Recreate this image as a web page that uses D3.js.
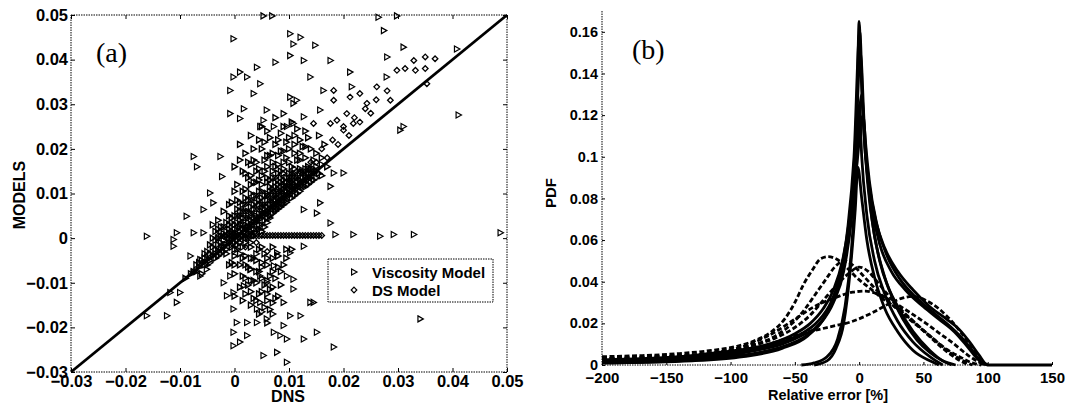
<!DOCTYPE html>
<html>
<head>
<meta charset="utf-8">
<script src="https://cdn.jsdelivr.net/npm/d3@7/dist/d3.min.js"></script>
<style>
  html, body { margin: 0; padding: 0; background: #fff; }
  svg { display: block; }
</style>
</head>
<body>
<svg id="fig" width="1068" height="407"></svg>
<script>
// ---------- Panel (a): model vs DNS scatter ----------
const scatterTicks = [-0.03, -0.02, -0.01, 0, 0.01, 0.02, 0.03, 0.04, 0.05];
const scatterTickLabels = ["\u22120.03", "\u22120.02", "\u22120.01", "0", "0.01", "0.02", "0.03", "0.04", "0.05"];
const legendLabels = ["Viscosity Model", "DS Model"];

// Viscosity model points [DNS, model]
const viscosityPts = [
  [-0.0002,0.0447],[0.0053,0.0498],[0.0069,0.0498],[0.0264,0.0495],[0.0298,0.0498],[0.0274,0.0465],
  [0.0102,0.0458],[0.0108,0.0435],[0.0121,0.045],[0.0102,0.0409],[0.0127,0.0398],[0.0148,0.0432],
  [0.0176,0.0398],[0.0075,0.0394],[0.028,0.0406],[0.031,0.0428],[0.0408,0.0424],[0.0411,0.0276],
  [0.031,0.025],[0.0279,0.0361],[0.0212,0.0372],[0.0215,0.0339],[0.0163,0.0331],[0.0139,0.0361],
  [0.0102,0.0316],[0.0114,0.0309],[0.0108,0.0302],[0.009,0.0279],[0.0059,0.0287],[0.0035,0.0324],
  [0.0047,0.0346],[0.0023,0.0361],[0.0041,0.0383],[-0.0002,0.0361],[0.001,0.0372],[-0.0008,0.0331],
  [-0.0008,0.0279],[0.0017,0.029],[0.001,0.0268],[0.0053,0.0264],[0.0047,0.025],[0.0072,0.025],
  [0.0096,0.025],[0.0108,0.0257],[0.0127,0.0272],[0.0157,0.0287],[-0.0075,0.0183],[-0.0069,0.016],
  [-0.0026,0.0183],[-0.0023,0.0138],[-0.0045,0.0101],[-0.0057,0.0064],[-0.0039,0.0079],[-0.0088,0.0049],
  [-0.0057,0.0012],[-0.0075,0.0012],[-0.0106,0.0012],[-0.0112,-0.0003],[-0.0161,0.0004],[0.0267,0.0004],
  [0.0292,0.0008],[0.0329,0.0008],[0.0218,0.0008],[0.0185,0.0008],[0.0488,0.0012],[0.0304,0.0242],
  [0.0182,0.0146],[0.02,0.0146],[0.0176,0.0116],[0.0157,0.0079],[0.0127,0.0064],[0.0151,0.0056],
  [0.0176,0.0034],[0.0127,-0.0018],[0.0102,-0.0033],[0.0078,-0.0033],[0.0096,-0.0085],[0.0108,-0.0092],
  [0.0108,-0.0114],[0.009,-0.0144],[0.0139,-0.0144],[0.0102,-0.0174],[0.0121,-0.0174],[0.009,-0.0196],
  [0.0072,-0.0211],[0.0084,-0.0218],[0.0096,-0.0226],[0.0127,-0.0226],[0.0151,-0.0211],[0.0182,-0.0244],
  [0.0078,-0.0256],[0.0096,-0.0278],[0.0053,-0.0263],[0.0023,-0.0218],[0.001,-0.0233],[-0.0002,-0.0241],
  [-0.0002,-0.0211],[0.0004,-0.0189],[0.0023,-0.0189],[0.0041,-0.0189],[0.0059,-0.0181],[-0.0002,-0.0159],
  [0.0041,-0.0159],[0.0047,-0.0144],[-0.0014,-0.0129],[-0.0002,-0.0122],[0.0017,-0.0107],[-0.002,-0.01],
  [-0.0008,-0.0085],[0.0029,-0.007],[0.0059,-0.01],[0.0072,-0.0062],[0.0047,-0.0085],[0.0341,-0.0181],
  [0.0145,-0.0144],[-0.0161,-0.0174],[-0.0124,-0.0174],[-0.0106,-0.0144],[-0.0118,-0.0122],[-0.01,-0.0122],
  [-0.0075,-0.0077],[-0.0063,-0.0085],[-0.0051,-0.007],[-0.0081,-0.004],[-0.0063,-0.0048],[-0.0045,-0.0055],
  [-0.0112,-0.0018]
];

// Viscosity model points in the dense cloud around the origin
const viscosityCore = [
  [-0.005,-0.006],[-0.004,-0.004],[-0.0035,-0.0025],[-0.003,-0.004],[-0.0025,-0.001],[-0.002,-0.003],
  [-0.002,0.001],[-0.0015,-0.0015],[-0.001,0.0],[-0.001,0.002],[-0.0005,-0.002],[0,0.001],[0,0.003],
  [0,-0.001],[0.0005,0.002],[0.0005,0.005],[0.001,0],[0.001,0.004],[0.0015,0.002],[0.0015,-0.002],
  [0.002,0.003],[0.002,0.006],[0.0025,0.001],[0.003,0.004],[0.003,0.007],[0.0035,0.002],[0.004,0.005],
  [0.004,0.008],[0.0045,0.003],[0.005,0.006],[0.005,0.009],[0.0055,0.004],[0.006,0.007],[0.006,0.01],
  [0.0065,0.005],[0.007,0.008],[0.007,0.011],[0.0075,0.006],[0.008,0.009],[0.008,0.012],[0.0085,0.007],
  [0.009,0.01],[0.009,0.013],[0.0095,0.008],[0.01,0.011],[0.01,0.0135],[0.0105,0.009],[0.011,0.012],
  [0.0115,0.01],[0.012,0.013],[0.0125,0.0115],[0.013,0.014],[0.0135,0.012],[0.014,0.0145],[0.0145,0.013],
  [0.015,0.015],[0.016,0.014],[0.017,0.016],
  [-0.0015,0.0005],[-0.0005,0.001],[0.0005,-0.0005],[0.001,0.0015],[0.002,0.0],[0.0025,0.0025],
  [0.003,0.001],[0.0035,0.0045],[0.004,0.002],[0.0045,0.0055],[0.005,0.003],[0.0055,0.0075],
  [0.006,0.0045],[0.0065,0.0085],[0.007,0.0065],[0.0075,0.0095],[0.008,0.0075],[0.0085,0.0105],
  [0.009,0.0085],[0.0095,0.0115],[0.0105,0.0125],[0.011,0.0105],[0.012,0.0115],[0.013,0.0125],
  [-0.0045,-0.005],[-0.0035,-0.0045],[-0.0025,-0.0035],[-0.0015,-0.0025],[-0.0005,-0.0005],[0.0005,0.0005],
  [0.0005,0.0035],[0.001,0.006],[0.0015,0.0045],[0.0015,0.0075],[0.002,0.0015],[0.0025,0.0045],
  [0.0025,0.0085],[0.003,0.0025],[0.003,0.0055],[0.0035,0.0065],[0.0035,0.0095],[0.004,0.0035],
  [0.004,0.0065],[0.0045,0.0075],[0.0045,0.0105],[0.005,0.0045],[0.005,0.0075],[0.0055,0.0055],
  [0.0055,0.0095],[0.006,0.0085],[0.006,0.0125],[0.0065,0.0065],[0.0065,0.0105],[0.007,0.0095],
  [0.007,0.0135],[0.0075,0.0075],[0.0075,0.0115],[0.008,0.0105],[0.008,0.0145],[0.0085,0.0085],
  [0.0085,0.0125],[0.009,0.0115],[0.009,0.0155],[0.0095,0.0095],[0.0095,0.0135],[0.01,0.0125],
  [0.0105,0.0105],[0.0105,0.0145],[0.011,0.0135],[0.0115,0.0125],[0.012,0.0145],[0.0125,0.0135],
  [0.013,0.0155],[0.0135,0.0145],[0.014,0.0135],[0.0145,0.0155],[0.0155,0.0145],[0.016,0.0165],
  [-0.003,-0.003],[-0.003,-0.0015],[-0.003,0.0],[-0.0025,-0.0025],[-0.0025,0.0005],[-0.002,-0.002],
  [-0.002,-0.0005],[-0.002,0.0025],[-0.0015,-0.0035],[-0.0015,0.0015],[-0.001,-0.001],[-0.001,0.001],
  [-0.001,0.003],[-0.0005,-0.0015],[-0.0005,0.0015],[-0.0005,0.0045],[0,0.0],[0,0.002],[0,0.005],
  [0,-0.0025],[0.0005,-0.0015],[0.0005,0.001],[0.0005,0.0065],[0.001,-0.001],[0.001,0.0025],
  [0.001,0.005],[0.0015,0.0005],[0.0015,0.003],[0.0015,0.006],[0.002,-0.001],[0.002,0.002],
  [0.002,0.0045],[0.002,0.0075],[0.0025,0.0],[0.0025,0.0035],[0.0025,0.006],[0.003,-0.001],
  [0.003,0.0015],[0.003,0.0085],[0.0035,0.0005],[0.0035,0.0035],[0.0035,0.0075],[0.004,0.001],
  [0.004,0.0045],[0.004,0.0095],[0.0045,0.002],[0.0045,0.0045],[0.0045,0.0085],[0.005,0.0015],
  [0.005,0.0055],[0.005,0.0105],[0.0055,0.0025],[0.0055,0.0065],[0.006,0.0035],[0.006,0.0055],
  [0.006,0.0095],[0.0065,0.0045],[0.0065,0.0075],[0.0065,0.0115],[0.007,0.0055],[0.007,0.0075],
  [0.007,0.0105],[0.0075,0.0065],[0.0075,0.0085],[0.0075,0.0125],[0.008,0.0065],[0.008,0.0085],
  [0.008,0.011],[0.0085,0.0075],[0.0085,0.0095],[0.0085,0.0135],[0.009,0.0075],[0.009,0.0095],
  [0.009,0.012],[0.0095,0.0085],[0.0095,0.0105],[0.0095,0.0125],[0.01,0.0095],[0.01,0.0115],
  [0.01,0.0145],[0.0105,0.0115],[0.0105,0.0135],[0.011,0.0095],[0.011,0.0115],[0.011,0.0145],
  [0.0115,0.0115],[0.0115,0.0135],[0.012,0.0105],[0.012,0.0125],[0.012,0.0155],[0.0125,0.0125],
  [0.0125,0.0145],[0.013,0.0115],[0.013,0.0135],[0.0135,0.0135],[0.0135,0.0155],[0.014,0.0125],
  [0.014,0.0155],[0.0145,0.0145],[0.015,0.0135],[0.015,0.016],
  // spread above the diagonal
  [0.001,0.008],[0.002,0.011],[0.003,0.014],[0.004,0.017],[0.005,0.02],[0.006,0.016],[0.007,0.019],
  [0.008,0.022],[0.009,0.017],[0.01,0.02],[0.011,0.023],[0.012,0.019],[0.003,0.01],[0.0045,0.013],
  [0.0055,0.015],[0.0065,0.013],[0.0075,0.016],[0.0085,0.015],[0.0095,0.018],[0.0105,0.016],
  [0.011,0.019],[0.0025,0.017],[0.0035,0.02],[0.0005,0.012],[-0.0005,0.008],[-0.001,0.005],
  [0.0015,0.015],[0.006,0.024],[0.009,0.025],[0.012,0.022],[0.013,0.018],[0.014,0.02],[0.0045,0.022],
  [0.002,0.019],[0.0,0.016],[0.0075,0.021],[0.0135,0.016],[0.015,0.019],[0.0165,0.021],[0.0155,0.023],
  [0.013,0.024],[0.0105,0.026],[0.0075,0.027],[0.005,0.025],[0.003,0.023],[0.001,0.021],
  [0.0035,0.0125],[0.0055,0.0175],[0.0065,0.0185],[0.0085,0.0195],[0.0095,0.0215],[0.0025,0.0135],
  [0.0015,0.0105],[0.0005,0.0085],[-0.0005,0.0035],[-0.001,0.0075],[0.0,0.0105],[0.0045,0.0155],
  [0.0075,0.0135],[0.0115,0.0175],[0.0125,0.0205],[0.0055,0.0215],[0.0035,0.0175],
  [0.002,0.009],[0.003,0.012],[0.004,0.0125],[0.004,0.015],[0.005,0.012],[0.005,0.014],[0.006,0.0135],
  [0.006,0.0185],[0.007,0.015],[0.007,0.017],[0.008,0.0165],[0.008,0.0185],[0.009,0.0145],[0.009,0.0195],
  [0.01,0.017],[0.01,0.0225],[0.011,0.0155],[0.011,0.021],[0.012,0.0175],[0.013,0.0205],[0.001,0.0175],
  [0.002,0.0145],[0.003,0.0165],[0.0065,0.0225],[0.0085,0.0235],[0.0115,0.0245],[0.0135,0.0225],
  [0.0145,0.0175],[0.016,0.018],
  // spread below the diagonal
  [0.0,-0.004],[0.001,-0.006],[0.002,-0.004],[0.003,-0.007],[0.004,-0.005],[0.005,-0.009],
  [0.006,-0.006],[0.007,-0.011],[0.005,-0.012],[0.006,-0.014],[0.004,-0.01],[0.003,-0.012],
  [0.002,-0.009],[0.001,-0.011],[0.0,-0.008],[0.0075,-0.009],[0.0065,-0.016],[0.008,-0.013],
  [0.003,-0.015],[0.0015,-0.014],[0.0,-0.013],[-0.001,-0.006],[0.008,-0.004],[0.009,-0.006],
  [0.0045,-0.017],[0.006,-0.019],[0.007,-0.017],[0.003,-0.002],[0.005,-0.002],[0.007,-0.002],
  [0.0005,-0.0025],[0.0015,-0.0045],[0.0025,-0.0065],[0.0035,-0.0045],[0.0045,-0.0075],[0.0055,-0.0035],
  [0.0065,-0.0085],[0.0045,-0.0125],[0.0055,-0.0105],[0.0035,-0.0095],[0.0025,-0.0105],[0.0015,-0.0085],
  [0.0065,-0.0115],[0.0075,-0.0135],[0.0055,-0.0155],[0.0035,-0.0135],[0.0085,-0.0075],[0.0095,-0.0045],
  [0.0105,-0.0025],[0.0045,-0.0025],[-0.0005,-0.0055],[0.0085,-0.0105],
  [0.001,-0.0035],[0.002,-0.006],[0.003,-0.0045],[0.004,-0.0035],[0.005,-0.0055],[0.006,-0.0045],
  [0.007,-0.0045],[0.004,-0.0075],[0.005,-0.0065],[0.006,-0.0095],[0.007,-0.0075],[0.003,-0.0095],
  [0.002,-0.0125],[0.004,-0.014],[0.006,-0.0125],[0.007,-0.0145],[0.005,-0.0165],[0.0,-0.006],
  [0.008,-0.0065],[0.0095,-0.0025],
  // lower-left of the diagonal
  [-0.006,-0.005],[-0.007,-0.006],[-0.008,-0.008],[-0.009,-0.009],[-0.006,-0.008],[-0.005,-0.003],
  [-0.004,0.0],[-0.003,0.002],[-0.003,0.004],[-0.002,0.006],[-0.004,0.003],
  [-0.0035,-0.0005],[-0.0045,-0.0015],[-0.0055,-0.0035],[-0.0025,0.0025],[-0.0015,0.0035],
  [-0.0035,0.0015],[-0.0065,-0.0065],[-0.0075,-0.0075],
  [-0.0045,-0.0035],[-0.0055,-0.0045],[-0.0055,-0.006],[-0.0065,-0.0055],[-0.007,-0.0075],
  [-0.0035,-0.0035],[-0.004,-0.002],[-0.005,-0.0045]
];

// DS model points [DNS, model]
const dsPts = [
  [0.0298,0.0376],[0.0313,0.038],[0.0329,0.0398],[0.035,0.0406],[0.0368,0.0402],[0.0332,0.0376],
  [0.035,0.038],[0.0353,0.0346],[0.0286,0.0309],[0.0261,0.0339],[0.023,0.0324],[0.0243,0.0302],
  [0.0212,0.0316],[0.0182,0.0331],[0.0182,0.0309],[0.0145,0.0257],[0.0176,0.0257],[0.0188,0.0264],
  [0.0206,0.0279],[0.0218,0.0257],[0.02,0.0242],
  // row of points along zero model output
  [-0.003,0.0005],[-0.0025,0.0005],[-0.002,0.0005],[-0.0015,0.0005],[-0.001,0.0005],[-0.0005,0.0005],
  [0,0.0005],[0.0005,0.0005],[0.001,0.0005],[0.0015,0.0005],[0.002,0.0005],[0.0025,0.0005],
  [0.003,0.0005],[0.0035,0.0005],[0.004,0.0005],[0.0045,0.0005],[0.005,0.0006],[0.0055,0.0006],
  [0.006,0.0006],[0.0065,0.0006],[0.007,0.0006],[0.0075,0.0006],[0.008,0.0006],[0.0085,0.0006],
  [0.009,0.0006],[0.0095,0.0006],[0.01,0.0006],[0.0105,0.0006],[0.011,0.0006],[0.0115,0.0006],
  [0.012,0.0006],[0.0125,0.0006],[0.013,0.0006],[0.0135,0.0006],[0.014,0.0006],[0.0145,0.0006],
  [0.015,0.0006],[0.0155,0.0006],[0.016,0.0006],
  // band just above the diagonal
  [0.008,0.01],[0.01,0.012],[0.012,0.015],[0.014,0.017],[0.016,0.02],[0.018,0.022],[0.02,0.025],
  [0.022,0.027],[0.024,0.029],[0.026,0.031],[0.028,0.033],[0.017,0.018],[0.019,0.021],[0.021,0.023],
  [0.023,0.026],[0.025,0.028],[0.015,0.017],[0.013,0.015],
  // around the core
  [0.002,0.002],[0.004,0.004],[0.006,0.006],[0.003,0.005],[0.005,0.007],[0.001,0.003],[-0.001,-0.001],
  [-0.002,-0.002],[0.007,0.009],[0.009,0.011],[0.004,-0.001],[0.006,-0.003],[0.002,-0.002]
];

// ---------- Panel (b): PDF of relative error ----------
const pdfTicks = [0, 0.02, 0.04, 0.06, 0.08, 0.1, 0.12, 0.14, 0.16];
const pdfTickLabels = ["0", "0.02", "0.04", "0.06", "0.08", "0.1", "0.12", "0.14", "0.16"];
const errTicks = [-200, -150, -100, -50, 0, 50, 100, 150];
const errTickLabels = ["\u2212200", "\u2212150", "\u2212100", "\u221250", "0", "50", "100", "150"];

// solid curves [relative error %, pdf]
const solid1 = [[-200,0.0025],[-170,0.003],[-140,0.004],[-110,0.006],[-85,0.008],[-65,0.011],[-50,0.015],[-38,0.02],[-28,0.027],[-20,0.036],[-13,0.05],[-8,0.068],[-4,0.095],[-1.5,0.13],[0,0.165],[1.5,0.14],[4,0.11],[8,0.086],[13,0.069],[20,0.056],[30,0.045],[42,0.036],[55,0.028],[68,0.022],[78,0.017],[86,0.011],[93,0.005],[100,0],[150,0]];
const solid2 = [[-200,0.002],[-150,0.003],[-110,0.005],[-80,0.008],[-60,0.011],[-45,0.015],[-32,0.021],[-22,0.03],[-14,0.044],[-8,0.064],[-3,0.1],[1,0.15],[4,0.115],[8,0.088],[14,0.067],[22,0.052],[32,0.041],[45,0.032],[58,0.025],[70,0.019],[80,0.013],[88,0.007],[96,0]];
const solid3 = [[-200,0.0015],[-150,0.0025],[-110,0.004],[-80,0.007],[-60,0.01],[-45,0.014],[-30,0.02],[-20,0.03],[-12,0.045],[-6,0.07],[-2,0.1],[2,0.13],[5,0.1],[10,0.075],[16,0.058],[25,0.045],[36,0.036],[50,0.028],[62,0.022],[74,0.016],[84,0.009],[92,0.003],[98,0]];
const solid4 = [[-200,0.001],[-140,0.002],[-100,0.004],[-70,0.007],[-50,0.011],[-35,0.017],[-24,0.026],[-15,0.04],[-8,0.062],[-2,0.095],[3,0.12],[6,0.095],[10,0.07],[16,0.05],[24,0.035],[34,0.022],[45,0.012],[55,0.006],[65,0.002],[75,0]];
const solid5 = [[-45,0],[-35,0.001],[-25,0.004],[-17,0.012],[-11,0.028],[-6,0.055],[-2,0.095],[0,0.125],[2,0.1],[6,0.072],[12,0.05],[20,0.034],[30,0.021],[42,0.011],[55,0.004],[65,0]];
const solid6 = [[-35,0],[-25,0.002],[-18,0.008],[-12,0.02],[-7,0.045],[-3,0.075],[-1,0.095],[2,0.08],[6,0.06],[12,0.042],[20,0.027],[30,0.016],[42,0.007],[55,0.002],[62,0]];
const solid7 = [[-200,0.001],[-130,0.002],[-90,0.004],[-60,0.008],[-40,0.014],[-26,0.024],[-16,0.04],[-9,0.065],[-4,0.1],[0.5,0.16],[3,0.12],[7,0.085],[12,0.062],[20,0.042],[30,0.028],[42,0.016],[55,0.007],[65,0.002],[72,0]];

// dashed curves [relative error %, pdf]
const dashed1 = [[-200,0.004],[-170,0.0045],[-140,0.0055],[-115,0.007],[-95,0.009],[-80,0.012],[-68,0.016],[-58,0.022],[-50,0.03],[-43,0.039],[-36,0.046],[-30,0.051],[-24,0.052],[-18,0.051],[-10,0.047],[-2,0.042],[8,0.037],[18,0.032],[30,0.027],[42,0.021],[55,0.014],[67,0.008],[78,0.004],[88,0.001],[95,0]];
const dashed2 = [[-200,0.003],[-160,0.004],[-125,0.005],[-100,0.007],[-80,0.01],[-65,0.014],[-52,0.02],[-42,0.027],[-34,0.034],[-26,0.041],[-19,0.047],[-12,0.05],[-5,0.048],[3,0.043],[12,0.037],[22,0.031],[33,0.025],[45,0.019],[57,0.013],[68,0.007],[78,0.003],[88,0]];
const dashed3 = [[-200,0.003],[-150,0.004],[-110,0.006],[-85,0.009],[-65,0.013],[-50,0.018],[-38,0.024],[-28,0.031],[-18,0.038],[-8,0.044],[0,0.047],[7,0.045],[14,0.04],[22,0.034],[32,0.027],[44,0.02],[56,0.013],[67,0.007],[76,0.003],[85,0]];
const dashed4 = [[-200,0.002],[-150,0.003],[-110,0.006],[-85,0.01],[-65,0.016],[-50,0.022],[-35,0.028],[-20,0.032],[-5,0.035],[5,0.0355],[15,0.034],[27,0.03],[40,0.025],[52,0.02],[63,0.015],[74,0.01],[84,0.005],[93,0.0015],[100,0]];
const dashed5 = [[-200,0.001],[-150,0.002],[-110,0.004],[-85,0.007],[-65,0.011],[-45,0.015],[-25,0.018],[-5,0.021],[10,0.025],[22,0.029],[33,0.032],[42,0.033],[52,0.031],[62,0.027],[72,0.021],[80,0.015],[88,0.008],[95,0.002],[100,0]];

const solidCurves = [solid1, solid2, solid3, solid4, solid5, solid6, solid7];
const dashedCurves = [dashed1, dashed2, dashed3, dashed4, dashed5];

const SANS = "'Liberation Sans', Arial, Helvetica, sans-serif";
const SERIF = "'Liberation Serif', 'Times New Roman', serif";

const svg = d3.select("#fig");

function styleAxis(size) {
  return g => {
    g.attr("font-size", null).attr("font-family", null);
    g.select(".domain").remove();
    g.selectAll(".tick line").attr("stroke", "#000").attr("stroke-width", 1);
    g.selectAll(".tick text")
      .style("font-family", SANS).style("font-weight", "bold")
      .style("font-size", size + "px").attr("fill", "#000");
  };
}
function label(g, txt, x, y, size, opts = {}) {
  const t = g.append("text").text(txt)
    .style("font-family", opts.serif ? SERIF : SANS)
    .style("font-weight", opts.serif ? "normal" : "bold")
    .style("font-size", size + "px").attr("fill", "#000")
    .attr("text-anchor", opts.anchor || "start");
  if (opts.rotate) t.attr("transform", `translate(${x},${y}) rotate(-90)`);
  else t.attr("x", x).attr("y", y);
  return t;
}

// ---------- draw panel (a) ----------
const xA = d3.scaleLinear().domain([-0.03, 0.05]).range([71, 507]);
const yA = d3.scaleLinear().domain([-0.03, 0.05]).range([372, 15]);
const gA = svg.append("g");

const triPath = "M-2.4,-3 L3,0 L-2.4,3 Z";
const diaPath = "M0,-2.8 L2.8,0 L0,2.8 L-2.8,0 Z";

function drawMarkers(g, pts, shape, sw) {
  g.append("g").selectAll("path").data(pts).join("path")
    .attr("d", shape)
    .attr("transform", d => `translate(${xA(d[0])},${yA(d[1])})`)
    .attr("fill", "none").attr("stroke", "#000").attr("stroke-width", sw);
}
drawMarkers(gA, dsPts, diaPath, 1.3);
drawMarkers(gA, viscosityPts, triPath, 1.2);
drawMarkers(gA, viscosityCore, triPath, 1.4);

// identity line
gA.append("line")
  .attr("x1", xA(-0.03)).attr("y1", yA(-0.03))
  .attr("x2", xA(0.05)).attr("y2", yA(0.05))
  .attr("stroke", "#000").attr("stroke-width", 2.8);

// frame
gA.append("rect")
  .attr("x", xA(-0.03)).attr("y", yA(0.05))
  .attr("width", xA(0.05) - xA(-0.03)).attr("height", yA(-0.03) - yA(0.05))
  .attr("fill", "none").attr("stroke", "#000").attr("stroke-width", 1)
  .attr("stroke-dasharray", "1.5,1");

// axes with inward ticks
gA.append("g").attr("transform", `translate(0,${yA(-0.03)})`)
  .call(d3.axisBottom(xA).tickValues(scatterTicks).tickSize(-4).tickPadding(3)
    .tickFormat((d, i) => scatterTickLabels[i]))
  .call(styleAxis(16.5));
gA.append("g").attr("transform", `translate(${xA(-0.03)},0)`)
  .call(d3.axisLeft(yA).tickValues(scatterTicks).tickSize(-4).tickPadding(3)
    .tickFormat((d, i) => scatterTickLabels[i]))
  .call(styleAxis(16.5));
gA.append("g").attr("transform", `translate(0,${yA(0.05)})`)
  .call(d3.axisTop(xA).tickValues(scatterTicks).tickSize(-4).tickFormat(""))
  .call(styleAxis(16.5));
gA.append("g").attr("transform", `translate(${xA(0.05)},0)`)
  .call(d3.axisRight(yA).tickValues(scatterTicks).tickSize(-4).tickFormat(""))
  .call(styleAxis(16.5));

label(gA, "DNS", 288, 402, 16, { anchor: "middle" });
label(gA, "MODELS", 25, 195, 16, { anchor: "middle", rotate: true });
label(gA, "(a)", 96, 62, 28, { serif: true });

// legend
const lg = gA.append("g");
lg.append("rect").attr("x", 328).attr("y", 259).attr("width", 165).attr("height", 43)
  .attr("fill", "#fff").attr("stroke", "#000").attr("stroke-width", 1).attr("stroke-dasharray", "1.5,1");
const legendShapes = [triPath, diaPath];
legendLabels.forEach((lab, i) => {
  const yy = 272 + i * 18;
  lg.append("path").attr("d", legendShapes[i]).attr("transform", `translate(354,${yy})`)
    .attr("fill", "none").attr("stroke", "#000").attr("stroke-width", 1.2);
  label(lg, lab, 372, yy + 5.5, 15);
});

// ---------- draw panel (b) ----------
const xB = d3.scaleLinear().domain([-200, 150]).range([602, 1052]);
const yB = d3.scaleLinear().domain([0, 0.17]).range([365, 11]);
const gB = svg.append("g");

const line = d3.line().x(d => xB(d[0])).y(d => yB(d[1])).curve(d3.curveMonotoneX);

gB.append("g").selectAll("path").data(dashedCurves).join("path")
  .attr("d", line).attr("fill", "none").attr("stroke", "#000")
  .attr("stroke-width", 2.8).attr("stroke-dasharray", "5,2.5");

gB.append("g").selectAll("path").data(solidCurves).join("path")
  .attr("d", line).attr("fill", "none").attr("stroke", "#000")
  .attr("stroke-width", 2.8);

// dotted axis lines
gB.append("line").attr("x1", xB(-200)).attr("x2", xB(-200)).attr("y1", yB(0)).attr("y2", yB(0.17))
  .attr("stroke", "#000").attr("stroke-width", 1).attr("stroke-dasharray", "1.5,1");
gB.append("line").attr("x1", xB(-200)).attr("x2", xB(150)).attr("y1", yB(0)).attr("y2", yB(0))
  .attr("stroke", "#000").attr("stroke-width", 1).attr("stroke-dasharray", "1.5,1");

gB.append("g").attr("transform", `translate(0,${yB(0)})`)
  .call(d3.axisBottom(xB).tickValues(errTicks).tickSize(-3).tickPadding(7)
    .tickFormat((d, i) => errTickLabels[i]))
  .call(styleAxis(15));
gB.append("g").attr("transform", `translate(${xB(-200)},0)`)
  .call(d3.axisLeft(yB).tickValues(pdfTicks).tickSize(-3).tickPadding(4)
    .tickFormat((d, i) => pdfTickLabels[i]))
  .call(styleAxis(14.5));

label(gB, "Relative error [%]", 828, 400, 14.5, { anchor: "middle" });
label(gB, "PDF", 556, 193, 15, { anchor: "middle", rotate: true });
label(gB, "(b)", 632, 59, 28, { serif: true });
</script>
</body>
</html>
